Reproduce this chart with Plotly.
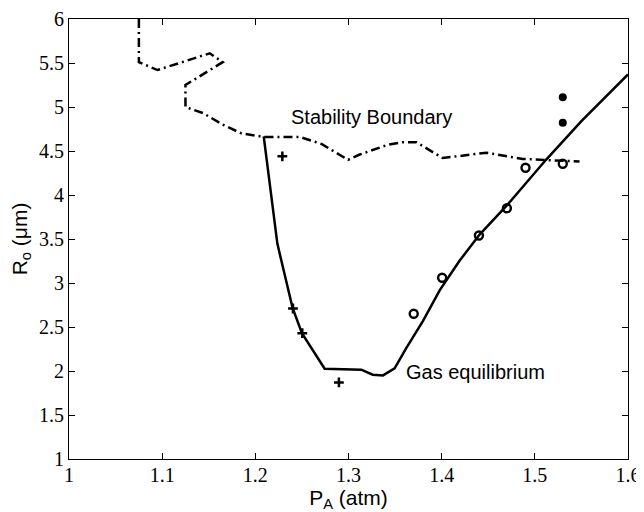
import plotly.graph_objects as go

# Stability boundary (dash-dot curve)
stab_pa = [1.075, 1.075, 1.095, 1.151, 1.165, 1.125, 1.125, 1.144, 1.165, 1.185, 1.209,
           1.2475, 1.271, 1.2995, 1.312, 1.342, 1.358, 1.373, 1.401, 1.448, 1.487, 1.519, 1.548]
stab_r = [6.0, 5.51, 5.42, 5.61, 5.51, 5.25, 5.0, 4.93, 4.80, 4.70, 4.66,
          4.66, 4.58, 4.40, 4.46, 4.57, 4.60, 4.60, 4.42, 4.48, 4.41, 4.39, 4.38]

# Gas equilibrium (solid curve)
gas_pa = [1.209, 1.2236, 1.226, 1.240, 1.250, 1.2744, 1.3137, 1.326, 1.337, 1.3495,
          1.362, 1.380, 1.398, 1.419, 1.4407, 1.469, 1.512, 1.55, 1.6]
gas_r = [4.666, 3.45, 3.34, 2.716, 2.43, 2.026, 2.015, 1.958, 1.95, 2.03,
         2.26, 2.57, 2.92, 3.25, 3.55, 3.87, 4.40, 4.84, 5.37]

# Measured points
plus_pa = [1.229, 1.2404, 1.2504, 1.2897]
plus_r = [4.44, 2.71, 2.43, 1.87]
open_pa = [1.370, 1.4005, 1.44, 1.47, 1.49, 1.53]
open_r = [2.65, 3.06, 3.54, 3.85, 4.31, 4.355]
filled_pa = [1.53, 1.53]
filled_r = [5.11, 4.82]

# Axis ticks
x_ticks = [1.0, 1.1, 1.2, 1.3, 1.4, 1.5, 1.6]
x_labels = ["1", "1.1", "1.2", "1.3", "1.4", "1.5", "1.6"]
y_ticks = [1.0, 1.5, 2.0, 2.5, 3.0, 3.5, 4.0, 4.5, 5.0, 5.5, 6.0]
y_labels = ["1", "1.5", "2", "2.5", "3", "3.5", "4", "4.5", "5", "5.5", "6"]

fig = go.Figure()
fig.add_trace(go.Scatter(x=stab_pa, y=stab_r, mode="lines",
                         line=dict(color="black", width=2.5, dash="9px,4px,2px,4px"),
                         showlegend=False))
fig.add_trace(go.Scatter(x=gas_pa, y=gas_r, mode="lines",
                         line=dict(color="black", width=2.5),
                         showlegend=False))
fig.add_trace(go.Scatter(x=plus_pa, y=plus_r, mode="markers",
                         marker=dict(symbol="cross-thin", size=7,
                                     line=dict(color="black", width=2.5)),
                         showlegend=False))
fig.add_trace(go.Scatter(x=open_pa, y=open_r, mode="markers",
                         marker=dict(symbol="circle-open", size=8, color="black",
                                     line=dict(color="black", width=2.4)),
                         showlegend=False))
fig.add_trace(go.Scatter(x=filled_pa, y=filled_r, mode="markers",
                         marker=dict(symbol="circle", size=8, color="black"),
                         showlegend=False))

fig.add_annotation(x=1.2357, y=4.89, text="Stability Boundary", showarrow=False,
                   xanchor="left", yanchor="middle",
                   font=dict(family="Liberation Sans", size=20, color="black"))
fig.add_annotation(x=1.36, y=1.99, text="Gas equilibrium", showarrow=False,
                   xanchor="left", yanchor="middle",
                   font=dict(family="Liberation Sans", size=20, color="black"))

axis_common = dict(showline=True, linecolor="black", linewidth=1, mirror="ticks",
                   ticks="inside", ticklen=6, tickcolor="black", tickwidth=1,
                   showgrid=False, zeroline=False, automargin=False,
                   tickfont=dict(family="Liberation Serif", size=20, color="black"))

fig.update_layout(
    width=636, height=504,
    margin=dict(l=61, r=16, t=11, b=53),
    paper_bgcolor="white", plot_bgcolor="white",
    xaxis=dict(range=[1.0, 1.6], tickvals=x_ticks, ticktext=x_labels,
               ticklabelstandoff=-2,
               title=dict(text="P<sub>A</sub> (atm)", standoff=1,
                          font=dict(family="Liberation Sans", size=21, color="black")),
               **axis_common),
    yaxis=dict(range=[1.0, 6.0], tickvals=y_ticks, ticktext=y_labels,
               title=dict(text="R<sub>o</sub> (μm)", standoff=10,
                          font=dict(family="Liberation Sans", size=21, color="black")),
               **axis_common),
)

fig.write_html("out.html")
